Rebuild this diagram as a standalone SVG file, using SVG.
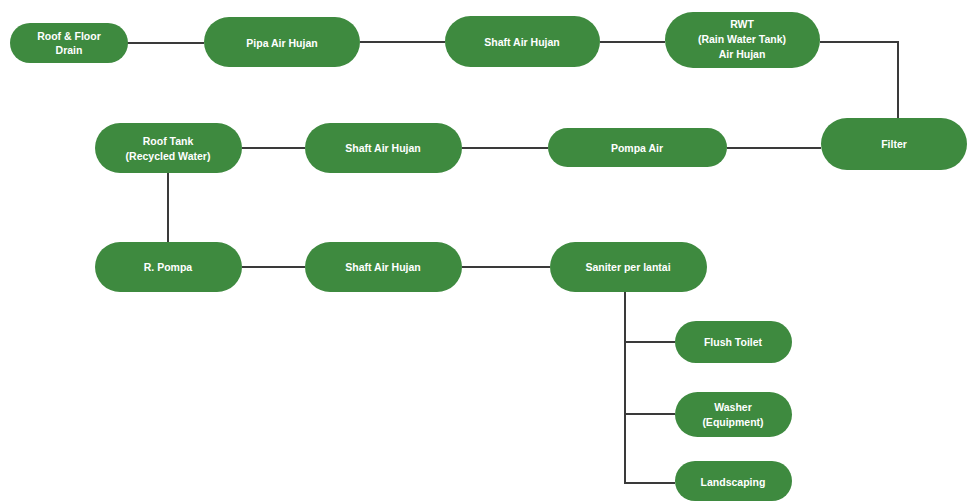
<svg xmlns="http://www.w3.org/2000/svg" width="968" height="502" viewBox="0 0 968 502">
  <style>
    .node { fill: #3e8a3f; }
    .lbl { fill: #ffffff; font-family: "Liberation Sans", Arial, sans-serif; font-weight: bold; font-size: 10.5px; text-anchor: middle; dominant-baseline: central; }
    .wire { fill: none; stroke: #3a3a3a; stroke-width: 2; }
  </style>
  <rect width="968" height="502" fill="#ffffff"/>

  <!-- connectors -->
  <g id="connectors">
    <path class="wire" d="M127 43 H204"/>
    <path class="wire" d="M360 42 H445"/>
    <path class="wire" d="M600 42 H665"/>
    <path class="wire" d="M820 42 H898 V118"/>
    <path class="wire" d="M727 148 H821"/>
    <path class="wire" d="M462 148 H548"/>
    <path class="wire" d="M242 148 H305"/>
    <path class="wire" d="M168 173 V242"/>
    <path class="wire" d="M242 267 H305"/>
    <path class="wire" d="M462 267 H550"/>
    <path class="wire" d="M625 292 V483 H675"/>
    <path class="wire" d="M625 342 H675"/>
    <path class="wire" d="M625 414 H675"/>
  </g>

  <!-- top row -->
  <g id="roof-floor-drain">
    <rect class="node" x="10" y="23" width="118" height="40" rx="20"/>
    <text class="lbl" x="69" y="36">Roof &amp; Floor</text>
    <text class="lbl" x="69" y="50">Drain</text>
  </g>
  <g id="pipa-air-hujan">
    <rect class="node" x="204" y="17" width="156" height="50" rx="25"/>
    <text class="lbl" x="282" y="43">Pipa Air Hujan</text>
  </g>
  <g id="shaft-air-hujan-1">
    <rect class="node" x="445" y="16" width="155" height="51" rx="25.5"/>
    <text class="lbl" x="522" y="42">Shaft Air Hujan</text>
  </g>
  <g id="rwt">
    <rect class="node" x="665" y="12" width="155" height="56" rx="28"/>
    <text class="lbl" x="742" y="24">RWT</text>
    <text class="lbl" x="742" y="39">(Rain Water Tank)</text>
    <text class="lbl" x="742" y="54">Air Hujan</text>
  </g>

  <!-- middle row -->
  <g id="filter">
    <rect class="node" x="821" y="118" width="146" height="52" rx="26"/>
    <text class="lbl" x="894" y="144">Filter</text>
  </g>
  <g id="pompa-air">
    <rect class="node" x="548" y="128" width="179" height="39" rx="19.5"/>
    <text class="lbl" x="637" y="148">Pompa Air</text>
  </g>
  <g id="shaft-air-hujan-2">
    <rect class="node" x="305" y="123" width="157" height="50" rx="25"/>
    <text class="lbl" x="383" y="148">Shaft Air Hujan</text>
  </g>
  <g id="roof-tank">
    <rect class="node" x="95" y="123" width="147" height="50" rx="25"/>
    <text class="lbl" x="168" y="141">Roof Tank</text>
    <text class="lbl" x="168" y="156">(Recycled Water)</text>
  </g>

  <!-- bottom row -->
  <g id="r-pompa">
    <rect class="node" x="95" y="242" width="147" height="50" rx="25"/>
    <text class="lbl" x="168" y="267">R. Pompa</text>
  </g>
  <g id="shaft-air-hujan-3">
    <rect class="node" x="305" y="242" width="157" height="50" rx="25"/>
    <text class="lbl" x="383" y="267">Shaft Air Hujan</text>
  </g>
  <g id="saniter-per-lantai">
    <rect class="node" x="550" y="242" width="157" height="50" rx="25"/>
    <text class="lbl" x="628" y="267">Saniter per lantai</text>
  </g>

  <!-- end uses -->
  <g id="flush-toilet">
    <rect class="node" x="675" y="321" width="117" height="42" rx="21"/>
    <text class="lbl" x="733" y="342">Flush Toilet</text>
  </g>
  <g id="washer">
    <rect class="node" x="675" y="392" width="117" height="45" rx="22.5"/>
    <text class="lbl" x="733" y="407">Washer</text>
    <text class="lbl" x="733" y="422">(Equipment)</text>
  </g>
  <g id="landscaping">
    <rect class="node" x="675" y="461" width="117" height="40" rx="20"/>
    <text class="lbl" x="733" y="482">Landscaping</text>
  </g>
</svg>
